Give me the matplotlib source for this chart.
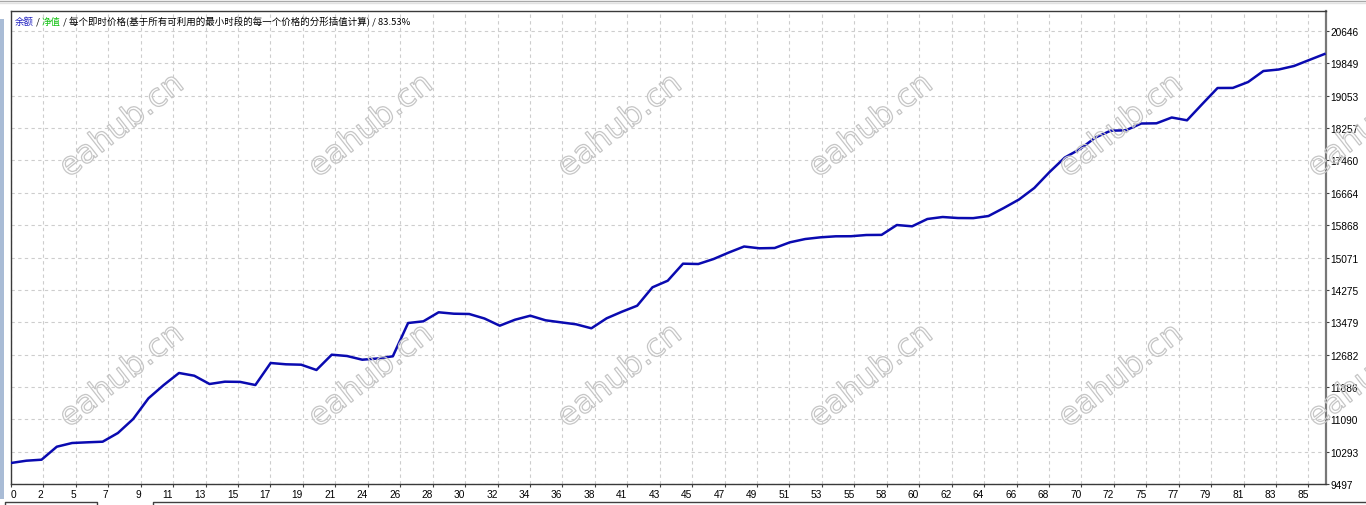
import matplotlib
matplotlib.use("Agg")
import matplotlib.pyplot as plt
import matplotlib.patheffects as pe
from matplotlib.lines import Line2D
from matplotlib.patches import Rectangle
import numpy as np

W, H = 1366, 506

# balance curve, one value per trade
balance = [10014, 10070, 10095, 10415, 10506, 10523, 10538, 10752, 11097, 11606,
           11933, 12229, 12162, 11958, 12015, 12010, 11933, 12475, 12443, 12433,
           12303, 12679, 12647, 12556, 12586, 12640, 13459, 13501, 13723, 13688,
           13681, 13570, 13393, 13540, 13639, 13526, 13476, 13427, 13329, 13575,
           13737, 13885, 14338, 14500, 14919, 14911, 15034, 15194, 15342, 15298,
           15305, 15445, 15526, 15568, 15593, 15595, 15625, 15628, 15871, 15839,
           16019, 16068, 16043, 16040, 16092, 16289, 16499, 16782, 17175, 17532,
           17741, 18024, 18192, 18202, 18369, 18374, 18517, 18448, 18849, 19243,
           19245, 19390, 19661, 19698, 19784, 19932, 20079]
trades = np.arange(len(balance))

x_labels = ["0", "2", "5", "7", "9", "11", "13", "15", "17", "19", "21", "24", "26",
            "28", "30", "32", "34", "36", "38", "41", "43", "45", "47", "49", "51",
            "53", "55", "58", "60", "62", "64", "66", "68", "70", "72", "75", "77",
            "79", "81", "83", "85"]
y_ticks = [9497, 10293, 11090, 11886, 12682, 13479, 14275, 15071, 15868, 16664,
           17460, 18257, 19053, 19849, 20646]

title_parts = [("余额", "#2020c0"), (" / ", "black"), ("净值", "#10c010"),
               (" / 每个即时价格(基于所有可利用的最小时段的每一个价格的分形插值计算) / 83.53%", "black")]

fig = plt.figure(figsize=(W / 100, H / 100), dpi=100, facecolor="white")

# plot box in pixels: left 11, right 1326, top 12, bottom 485
ax = fig.add_axes([11 / W, (H - 485) / H, 1315 / W, 473 / H])
ax.set_facecolor("white")

grid_step = 2.1238  # trades per grid column
ax.set_xlim(0, 86.1)
ax.set_ylim(9497, 21138)

ax.set_xticks(np.arange(len(x_labels)) * grid_step, x_labels)
for i, lab in enumerate(ax.get_xticklabels()):
    lab.set_ha("left" if i == 0 else "right")
ax.set_yticks(y_ticks, [str(v) for v in y_ticks])

ax.yaxis.tick_right()
ax.tick_params(axis="both", direction="out", length=2.5, width=0.8,
               colors="#404040", labelcolor="black", labelsize=7.3, pad=0.8)
for lab in ax.get_xticklabels() + ax.get_yticklabels():
    lab.set_family("Liberation Sans")

ax.grid(True, color="#cdcdcd", linewidth=0.8, linestyle=(0, (3, 3)))
ax.set_axisbelow(True)

for side in ["left", "bottom", "top"]:
    ax.spines[side].set_color("#3a3a3a")
    ax.spines[side].set_linewidth(1.0)
ax.spines["right"].set_color("#777777")
ax.spines["right"].set_linewidth(1.6)

ax.plot(trades, balance, color="#0a0ab0", linewidth=1.8, solid_joinstyle="round", zorder=3)

# header text with coloured parts
txt = ax.text(0.003, 0.979, title_parts[0][0], transform=ax.transAxes, color=title_parts[0][1],
              fontsize=6.8, family=["Noto Sans CJK SC", "DejaVu Sans"], va="center", ha="left")
for s, c in title_parts[1:]:
    txt = ax.annotate(s, xy=(1, 0), xycoords=txt, va="bottom", ha="left", color=c,
                      fontsize=6.8, family=["Noto Sans CJK SC", "DejaVu Sans"])

# watermarks
for cy in [127, 377]:
    for cx in [122, 371, 620, 871, 1121, 1370]:
        fig.text(cx / W, 1 - cy / H, "eahub.cn", fontsize=23, rotation=38,
                 rotation_mode="anchor", ha="center", va="center",
                 color=(1, 1, 1, 0), zorder=5,
                 path_effects=[pe.Stroke(linewidth=0.9, foreground="#c6c6c6")])

# window frame bits
fig.add_artist(Line2D([0, 1], [1 - 1.5 / H, 1 - 1.5 / H], color="#a8a8a8", lw=1))
fig.add_artist(Line2D([0, 1], [1 - 4 / H, 1 - 4 / H], color="#e2e2e2", lw=1))
fig.add_artist(Rectangle((0, 1 - 500 / H), 3.5 / W, 480 / H, color="#a9bcd6", lw=0))
fig.add_artist(Line2D([5 / W, 5 / W, 97 / W, 97 / W], [0, 3 / H, 3 / H, 0], color="#404040", lw=1))
fig.add_artist(Line2D([153 / W, 153 / W, 1], [0, 3 / H, 3 / H], color="#404040", lw=1))

fig.savefig("out.png", dpi=100, facecolor="white")
